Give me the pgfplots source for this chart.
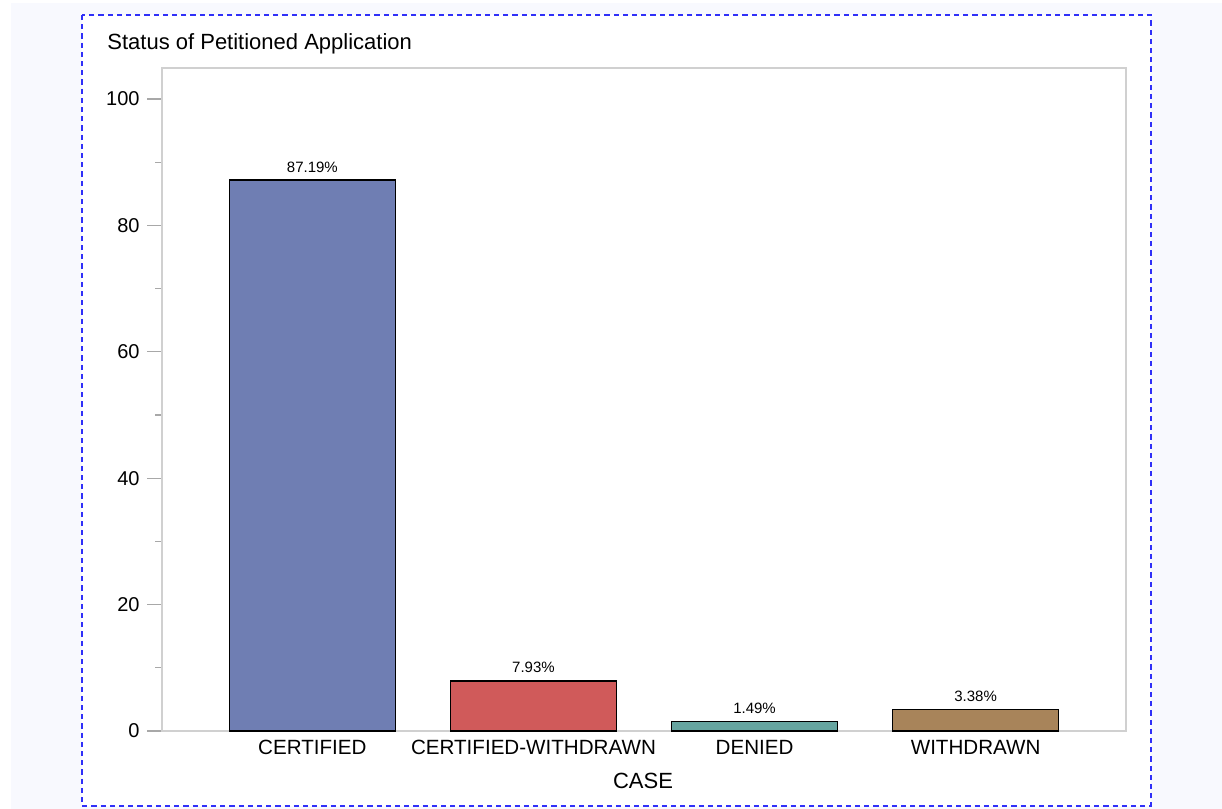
\documentclass[border=0pt]{standalone}
\usepackage{fontspec}
\setmainfont{Liberation Sans}
\usepackage{pgfplots}
\pgfplotsset{compat=1.18}

\definecolor{bgpage}{HTML}{F8F9FE}
\definecolor{boxblue}{HTML}{3030F8}
\definecolor{framegray}{HTML}{D0D0D0}
\definecolor{tickgray}{HTML}{A8A8A8}
\definecolor{cBlue}{HTML}{6F7EB3}
\definecolor{cRed}{HTML}{D05A5A}
\definecolor{cTeal}{HTML}{66A5A0}
\definecolor{cBrown}{HTML}{A8845A}

\begin{document}
\begin{tikzpicture}
% page: 1222 x 809 px, 1 px = 0.5pt
\fill[white] (0pt,0pt) rectangle (611pt,-404.5pt);
\useasboundingbox (0pt,0pt) rectangle (611pt,-404.5pt);
\fill[bgpage] (5.5pt,-1.5pt) rectangle (611pt,-404.5pt);
\fill[white] (41pt,-7.5pt) rectangle (575.5pt,-403pt);
\draw[boxblue, line width=0.9pt, dash pattern=on 2.6pt off 2pt] (41pt,-7.5pt) rectangle (575.5pt,-403pt);

\node[anchor=base west, inner sep=0pt, font=\fontsize{11}{13}\selectfont] at (53.5pt,-24.5pt) {Status of Petitioned Application};

\begin{axis}[
  at={(81pt,-365.5pt)}, anchor=south west,
  scale only axis, width=482pt, height=331.5pt,
  xmin=-0.68, xmax=3.68, ymin=0, ymax=104.9,
  axis line style={framegray, line width=0.75pt},
  ytick={0,20,40,60,80,100}, minor y tick num=1,
  ytick pos=left, tick align=outside,
  major tick length=7.5pt, minor tick length=3.5pt,
  every tick/.style={tickgray, line width=0.6pt},
  xtick={0,1,2,3},
  xticklabels={CERTIFIED,CERTIFIED-WITHDRAWN,DENIED,WITHDRAWN},
  x tick style={draw=none},
  xticklabel style={anchor=base, inner sep=0pt, yshift=-4pt, font=\fontsize{10.3}{12}\selectfont},
  yticklabel style={anchor=east, inner sep=0pt, xshift=-3.5pt, font=\fontsize{10}{12}\selectfont},
  /pgf/number format/assume math mode=true,
  ybar, bar width=83pt, bar shift=0pt,
  clip=false,
  nodes near coords={\pgfmathprintnumber[fixed,fixed zerofill,precision=2]{\pgfplotspointmeta}\%},
  every node near coord/.append style={anchor=south, inner sep=0pt, yshift=3.5pt, black, font=\fontsize{7.5}{9}\selectfont},
]
\addplot[draw=black, line width=0.75pt, fill=cBlue] coordinates {(0,87.19)};
\addplot[draw=black, line width=0.75pt, fill=cRed] coordinates {(1,7.93)};
\addplot[draw=black, line width=0.75pt, fill=cTeal] coordinates {(2,1.49)};
\addplot[draw=black, line width=0.75pt, fill=cBrown] coordinates {(3,3.38)};
\end{axis}

\node[anchor=base, inner sep=0pt, font=\fontsize{11}{13}\selectfont] at (321.5pt,-394pt) {CASE};
\end{tikzpicture}
\end{document}
